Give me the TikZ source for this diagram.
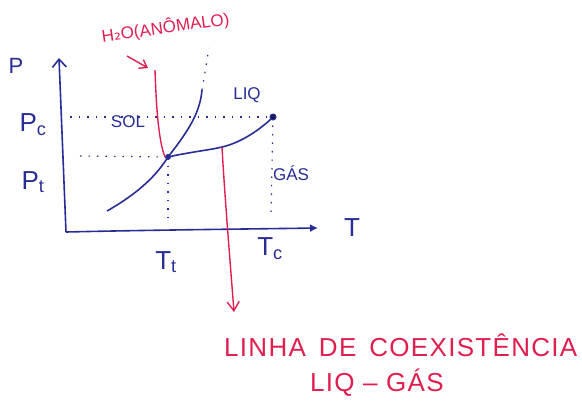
\documentclass[tikz,border=0pt]{standalone}
\usepackage{fontspec}
\setmainfont{Liberation Sans}
\newfontfamily\dejavu{DejaVu Sans}
\usetikzlibrary{arrows.meta}
\definecolor{ink}{RGB}{40,45,150}
\definecolor{rink}{RGB}{225,30,80}
\tikzset{
  axis/.style={ink, line width=1.6pt},
  curve/.style={ink, line width=1.6pt},
  guide/.style={ink, line width=1.2pt, dash pattern=on 1.5pt off 7pt},
  redline/.style={rink, line width=1.4pt},
  lbl/.style={ink, inner sep=0pt, font=\fontsize{26}{26}\selectfont},
  small/.style={ink, inner sep=0pt, font=\fontsize{17}{17}\selectfont},
  rlbl/.style={rink, inner sep=0pt, font=\fontsize{26}{26}\selectfont\addfontfeature{LetterSpace=5}},
}
\begin{document}
\begin{tikzpicture}[x=1pt,y=-1pt]
\useasboundingbox (0,0) rectangle (582,400);
% key points
\coordinate (O) at (66,232);
\coordinate (ytop) at (59,58);
\coordinate (xend) at (318,228);
\coordinate (trip) at (168,157);
\coordinate (crit) at (273,117);
\coordinate (sgstart) at (107,211);
\coordinate (slend) at (202,90);
\coordinate (sldot) at (209,48);
\coordinate (lgmid) at (222,147);
\coordinate (pcl) at (70,117);
\coordinate (ptl) at (80,156);
\coordinate (ttb) at (168,224);
\coordinate (tcb) at (271,216);
\coordinate (rtop) at (155,70);
\coordinate (rbot) at (234,312);
% axes
\draw[axis,-{Straight Barb[length=8pt,width=14pt]}] (O) -- (ytop);
\draw[axis,-{Latex[length=8pt,width=8pt]}] (O) .. controls (150,230) and (250,229) .. (xend);
% guides
\draw[guide] (pcl) -- (crit);
\draw[guide] (ptl) -- (trip);
\draw[guide] (trip) -- (ttb);
\draw[guide] (crit) -- (tcb);
\draw[guide] (slend) -- (sldot);
% curves
\draw[curve] (sgstart) .. controls (135,195) and (155,178) .. (trip);
\draw[curve] (trip) .. controls (185,135) and (200,115) .. (slend);
\draw[curve] (trip) .. controls (190,152) and (210,150) .. (lgmid) .. controls (240,143) and (260,130) .. (crit);
\node[draw=ink, fill=ink!60!black, circle, inner sep=0pt, minimum size=6pt, line width=1pt] (cp) at (crit) {};
\fill[ink] (trip) circle (3pt);
% red water line
\draw[redline] (rtop) .. controls (156,100) and (158,140) .. (165,157);
\draw[redline,-{Straight Barb[length=9pt,width=12pt]}] (lgmid) .. controls (225,200) and (230,260) .. (rbot);
% labels
\node[lbl, font=\fontsize{22}{22}\selectfont] (Plab) at (16,66) {P};
\node[lbl] (Pc) at (33,125) {P\textsubscript{c}};
\node[lbl] (Pt) at (33,182) {P\textsubscript{t}};
\node[lbl] (Tlab) at (352,228) {T};
\node[lbl] (Tt) at (166,262) {T\textsubscript{t}};
\node[lbl] (Tc) at (270,249) {T\textsubscript{c}};
\node[small] (sol) at (128,122) {SOL};
\node[small] (liq) at (247,95) {LIQ};
\node[small] (gas) at (291,173) {GÁS};
\node[rink, inner sep=0pt, rotate=8, anchor=south west, font=\fontsize{17}{17}\selectfont] (h2o) at (103,46) {H{\dejavu ₂}O(ANÔMALO)};
\coordinate (ha) at (127,56);
\draw[redline,-{Straight Barb[length=7pt,width=10pt]}] (ha) -- (148,68);
\node[rlbl, anchor=west] (linha) at (224,345) {LINHA\enspace DE\enspace COEXISTÊNCIA};
\node[rlbl, anchor=west] (lg) at (310,383) {LIQ – GÁS};
\end{tikzpicture}
\end{document}
